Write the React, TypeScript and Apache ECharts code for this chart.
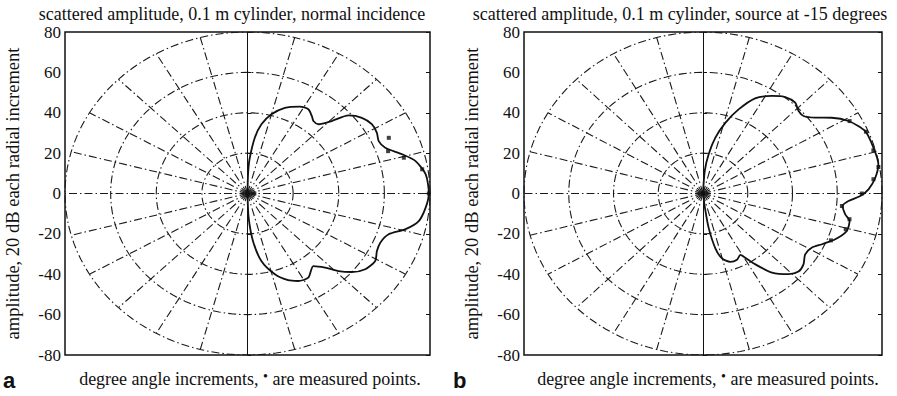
import React, { useEffect, useRef } from "react";
import * as echarts from "echarts";

// ---- texts ----
const TITLE_A = "scattered amplitude, 0.1 m cylinder, normal incidence";
const TITLE_B = "scattered amplitude, 0.1 m cylinder, source at -15 degrees";
const Y_NAME = "amplitude, 20 dB each radial increment";
const FOOT_1 = "degree angle increments, ";
const FOOT_DOT = "•";
const FOOT_2 = " are measured points.";
const PANEL_A = "a";
const PANEL_B = "b";

// ---- axes / polar grid ----
const Y_MIN = -80;
const Y_MAX = 80;
const Y_STEP = 20;
const RING_RADII = [20, 40, 60, 80];
const SPOKE_ANGLES = [0, 15, 30, 45, 60, 75, 90, 105, 120, 135, 150, 165, 180, 195, 210, 225, 240, 255, 270, 285, 300, 315, 330, 345];

// ---- panel a: normal incidence (angle in degrees, radius in dB units) ----
const A_ANGLES = [90, 88.5, 87, 83.4, 79.9, 75, 68.9, 61.9, 57.4, 53.5, 51.2, 47.8, 44.2, 41.1, 36.8, 32.2, 28, 24.3, 20.6, 16, 12.3, 6.9, 0, -5.1, -10.3, -14.3, -18.1, -22.7, -26.7, -30.8, -36, -40.4, -43.9, -47.2, -51.2, -57.4, -62.9, -67.5, -73.3, -79.7, -84.2, -87.6, -90];
const A_RADII = [0, 10, 17, 27.8, 34.8, 40.6, 45.5, 48.8, 49.5, 47.5, 46.1, 46.3, 51.5, 58.8, 62.6, 64.4, 64.2, 63.1, 64.5, 70.5, 75.4, 78.7, 79.5, 78.4, 76.3, 71.5, 65.1, 63.1, 63.5, 65.2, 63.8, 60.0, 55.4, 50.0, 46.1, 49.5, 48.7, 46.5, 41.8, 34.0, 23.6, 12, 0];
const A_MEAS_ANGLES = [24, 18.8, 14.5, 8.9, 0, 0, 0];
const A_MEAS_RADII = [67.8, 65.1, 70.8, 77.5, 79.5, 3, 0];

// ---- panel b: source at -15 degrees ----
const B_ANGLES = [90, 86, 82.6, 78.7, 74.1, 69.1, 63.7, 57.5, 52.4, 47.5, 43.7, 40.5, 36.8, 33.1, 28.9, 23.1, 16.6, 10.5, 5.8, 1.6, -1, -3.3, -5.7, -9.2, -11.7, -16.1, -21, -25.3, -28.8, -33.4, -38, -42.2, -46.2, -51.8, -56.3, -59.3, -61.2, -65.2, -70.2, -75.2, -78.5, -81.6, -83, -90];
const B_RADII = [0, 11.1, 19.6, 28.2, 36.4, 44.6, 52.6, 57.3, 60.3, 61.0, 59.1, 59.1, 62.7, 68.7, 74.3, 78.8, 79.5, 79.7, 77.4, 74.0, 70.3, 65.1, 62.7, 64.4, 66.9, 66.9, 63.3, 58.8, 55.6, 54.7, 57.0, 57.6, 55.4, 49.9, 42.2, 37.0, 34.7, 36.2, 36.0, 33.2, 27.7, 17.1, 7.1, 0];
const B_MEAS_ANGLES = [28.7, 22.8, 15.7, 9.5, 5.3, 0, -5.7, -11, -15.5, -22.1, 0];
const B_MEAS_RADII = [74.7, 79, 79.1, 79.5, 76.5, 71, 62.4, 66.7, 66.2, 61.7, 0];

const INK = "#111";
const SERIF = "'Liberation Serif', 'DejaVu Serif', serif";

function toXY(angleDeg: number, r: number): [number, number] {
  const t = (angleDeg * Math.PI) / 180;
  return [r * Math.cos(t), r * Math.sin(t)];
}

function ringCoords(r: number): [number, number][] {
  const pts: [number, number][] = [];
  for (let a = 0; a <= 360; a += 3) pts.push(toXY(a, r));
  return pts;
}

const DASH_DOT = [8, 3, 1.5, 3];

function panelSeries(idx: number, angles: number[], radii: number[], mAngles: number[], mRadii: number[]) {
  const outer = RING_RADII[RING_RADII.length - 1];
  return [
    {
      type: "lines",
      coordinateSystem: "cartesian2d",
      xAxisIndex: idx,
      yAxisIndex: idx * 2,
      polyline: true,
      silent: true,
      lineStyle: { color: "#1a1a1a", width: 1.1, opacity: 1, type: DASH_DOT },
      data: RING_RADII.map((r) => ({ coords: ringCoords(r) })),
    },
    {
      type: "lines",
      coordinateSystem: "cartesian2d",
      xAxisIndex: idx,
      yAxisIndex: idx * 2,
      silent: true,
      lineStyle: { color: "#1a1a1a", width: 1.1, opacity: 1, type: DASH_DOT },
      data: SPOKE_ANGLES.map((a) => {
        const item: any = { coords: [[0, 0], toXY(a, outer)] };
        if (a === 90 || a === 270) item.lineStyle = { type: "solid", width: 1, color: INK, opacity: 1 };
        return item;
      }),
    },
    {
      type: "line",
      xAxisIndex: idx,
      yAxisIndex: idx * 2,
      data: angles.map((a, i) => toXY(a, radii[i])),
      smooth: 0.25,
      symbol: "none",
      lineStyle: { color: INK, width: 1.8 },
      silent: true,
    },
    {
      type: "scatter",
      xAxisIndex: idx,
      yAxisIndex: idx * 2,
      data: mAngles.map((a, i) => toXY(a, mRadii[i])),
      symbol: "rect",
      symbolSize: 4,
      itemStyle: { color: INK },
      silent: true,
    },
  ];
}

function yAxes(gridIndex: number) {
  return [
    {
      gridIndex,
      type: "value",
      min: Y_MIN,
      max: Y_MAX,
      interval: Y_STEP,
      position: "left",
      axisLine: { show: false },
      axisTick: { show: true, inside: true, length: 4, lineStyle: { color: INK, width: 1 } },
      axisLabel: { fontFamily: SERIF, fontSize: 17, color: INK, margin: 4 },
      splitLine: { show: false },
      name: Y_NAME,
      nameLocation: "middle",
      nameGap: 43,
      nameTextStyle: { fontFamily: SERIF, fontSize: 18.5, color: INK },
    },
    {
      gridIndex,
      type: "value",
      min: Y_MIN,
      max: Y_MAX,
      interval: Y_STEP,
      position: "right",
      axisLine: { show: false },
      axisTick: { show: true, inside: true, length: 4, lineStyle: { color: INK, width: 1 } },
      axisLabel: { show: false },
      splitLine: { show: false },
    },
  ];
}

function footText(cx: number) {
  return {
    type: "text",
    x: cx,
    y: 379,
    style: {
      text: `{n|${FOOT_1}}{d|${FOOT_DOT}}{n|${FOOT_2}}`,
      align: "center",
      verticalAlign: "middle",
      rich: {
        n: { fontFamily: SERIF, fontSize: 18, fill: INK, lineHeight: 19 },
        d: { fontFamily: SERIF, fontSize: 14, fill: INK, verticalAlign: "top", lineHeight: 14 },
      },
    },
  };
}

export default function App() {
  const ref = useRef<HTMLDivElement>(null);
  useEffect(() => {
    if (!ref.current) return;
    const chart = echarts.init(ref.current, undefined, { renderer: "svg" });
    const option: any = {
      animation: false,
      backgroundColor: "#fff",
      grid: [
        { left: 65, top: 32, width: 365, height: 323, show: true, borderColor: INK, borderWidth: 1.5, backgroundColor: "transparent" },
        { left: 524, top: 32, width: 358, height: 323, show: true, borderColor: INK, borderWidth: 1.5, backgroundColor: "transparent" },
      ],
      xAxis: [
        { gridIndex: 0, type: "value", min: Y_MIN, max: Y_MAX, show: false },
        { gridIndex: 1, type: "value", min: Y_MIN, max: Y_MAX, show: false },
      ],
      yAxis: [...yAxes(0), ...yAxes(1)],
      series: [
        ...panelSeries(0, A_ANGLES, A_RADII, A_MEAS_ANGLES, A_MEAS_RADII),
        ...panelSeries(1, B_ANGLES, B_RADII, B_MEAS_ANGLES, B_MEAS_RADII),
      ],
      graphic: [
        { type: "text", x: 232, y: 14, style: { text: TITLE_A, align: "center", verticalAlign: "middle", font: `18px ${SERIF}`, fill: INK } },
        { type: "text", x: 680, y: 14, style: { text: TITLE_B, align: "center", verticalAlign: "middle", font: `18px ${SERIF}`, fill: INK } },
        footText(250),
        footText(708),
        { type: "text", x: 3, y: 380, style: { text: PANEL_A, align: "left", verticalAlign: "middle", font: `bold 22px 'Liberation Sans', Arial, sans-serif`, fill: INK } },
        { type: "text", x: 453, y: 380, style: { text: PANEL_B, align: "left", verticalAlign: "middle", font: `bold 22px 'Liberation Sans', Arial, sans-serif`, fill: INK } },
      ],
    };
    chart.setOption(option);
    return () => chart.dispose();
  }, []);
  return <div ref={ref} style={{ position: "absolute", left: 0, top: 0, width: 897, height: 396 }} />;
}
